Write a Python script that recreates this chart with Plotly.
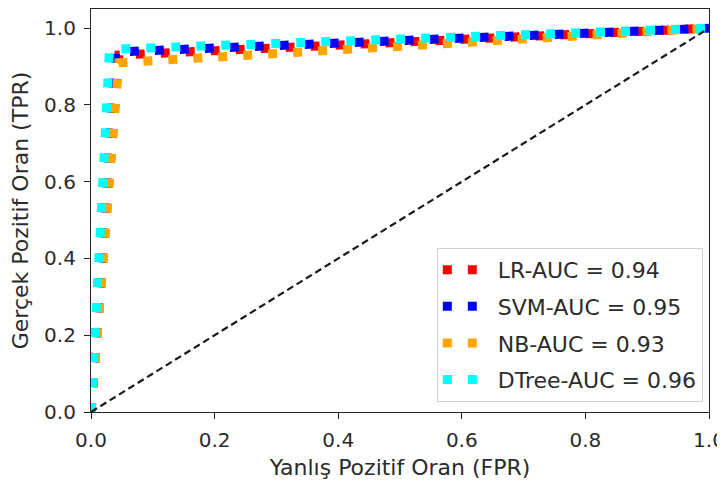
import plotly.graph_objects as go

models = ["LR", "SVM", "NB", "DTree"]
auc_values = [0.94, 0.95, 0.93, 0.96]
fpr_values = [
    [0.0, 0.045, 1.0],
    [0.0, 0.040, 1.0],
    [0.0, 0.045, 1.0],
    [0.0, 0.030, 1.0],
]
tpr_values = [
    [0.0, 0.930, 1.0],
    [0.0, 0.938, 1.0],
    [0.0, 0.910, 1.0],
    [0.0, 0.945, 1.0],
]
colors = ["#ff0000", "#0000ff", "#ffa500", "#00ffff"]
diag_x = [0.0, 1.0]
diag_y = [0.0, 1.0]
tick_vals = [0.0, 0.2, 0.4, 0.6, 0.8, 1.0]
tick_text = ["0.0", "0.2", "0.4", "0.6", "0.8", "1.0"]

FONT = "DejaVu Sans"
TXT = "#2b2b2b"

fig = go.Figure()
for i, m in enumerate(models):
    fig.add_trace(go.Scatter(
        x=fpr_values[i], y=tpr_values[i], mode="lines",
        name=f"{m}-AUC = {auc_values[i]:.2f}",
        legendgroup=m,
        line=dict(color=colors[i], width=9, dash="9px,16px"),
        hoverinfo="skip",
    ))

fig.add_trace(go.Scatter(
    x=diag_x, y=diag_y, mode="lines", showlegend=False,
    line=dict(color="#1a1a1a", width=2.2, dash="7px,4px"),
    hoverinfo="skip",
))

axis_common = dict(
    showgrid=False, zeroline=False, showline=True, mirror=True,
    linecolor="#222222", linewidth=1.2,
    ticks="outside", ticklen=6, tickwidth=1.2, tickcolor="#222222",
    tickfont=dict(family=FONT, size=20, color=TXT),
    tickvals=tick_vals, ticktext=tick_text,
    ticklabeloverflow="allow", ticklabelstandoff=4,
)

fig.update_layout(
    width=717, height=478,
    margin=dict(l=83, r=12, t=0, b=74),
    paper_bgcolor="white", plot_bgcolor="white",
    font=dict(family=FONT, color=TXT),
    xaxis=dict(range=[0, 1.0], **axis_common,
               title=dict(text="Yanlış Pozitif Oran (FPR)",
                          font=dict(family=FONT, size=22, color=TXT), standoff=8)),
    yaxis=dict(range=[0, 1.05], **axis_common,
               title=dict(text="Gerçek Pozitif Oran (TPR)",
                          font=dict(family=FONT, size=22, color=TXT), standoff=10)),
    legend=dict(
        x=0.99, y=0.025, xanchor="right", yanchor="bottom",
        bgcolor="white", bordercolor="#d0d0d0", borderwidth=1,
        font=dict(family=FONT, size=22, color=TXT),
        tracegroupgap=5, itemwidth=50,
    ),
    showlegend=True,
)

fig.write_html("out.html")
